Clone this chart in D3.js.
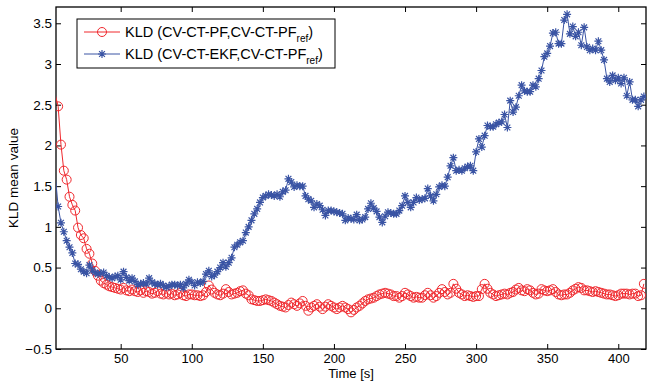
<!DOCTYPE html>
<html>
<head>
<meta charset="utf-8">
<script src="https://cdn.jsdelivr.net/npm/d3@7"></script>
<style>
  body { margin: 0; background: #fff; }
  text { font-family: "Liberation Sans", Arial, Helvetica, sans-serif; }
</style>
</head>
<body>
<svg id="chart" width="647" height="381"></svg>
<script>
// sample grid (s)
var times = d3.range(4, 419, 2);

// KLD (CV-CT-PF, CV-CT-PF_ref)
var pfValues = [
  2.62, 2.48, 2.01, 1.69, 1.58, 1.37, 1.27, 1.20, 0.99, 0.90,
  0.86, 0.73, 0.67, 0.55, 0.46, 0.40, 0.34, 0.31, 0.29, 0.27,
  0.26, 0.25, 0.24, 0.23, 0.25, 0.22, 0.21, 0.23, 0.21, 0.20,
  0.22, 0.19, 0.21, 0.20, 0.18, 0.19, 0.21, 0.18, 0.17, 0.19,
  0.17, 0.18, 0.16, 0.17, 0.19, 0.16, 0.15, 0.17, 0.17, 0.16,
  0.16, 0.15, 0.16, 0.20, 0.28, 0.23, 0.19, 0.17, 0.16, 0.18,
  0.235, 0.20, 0.17, 0.18, 0.19, 0.21, 0.22, 0.18, 0.16, 0.11,
  0.10, 0.09, 0.09, 0.10, 0.11, 0.10, 0.09, 0.07, 0.05, 0.03,
  0.02, 0.01, 0.04, 0.07, 0.05, 0.03, 0.06, 0.09, 0.03, -0.03,
  0.01, 0.03, 0.05, 0.02, -0.01, 0.02, 0.05, 0.03, 0.01, -0.01,
  0.01, 0.03, 0.01, -0.01, -0.05, -0.02, 0.01, 0.03, 0.06, 0.09,
  0.11, 0.12, 0.13, 0.15, 0.17, 0.18, 0.19, 0.18, 0.17, 0.15,
  0.15, 0.13, 0.15, 0.19, 0.17, 0.15, 0.13, 0.14, 0.13, 0.13,
  0.16, 0.19, 0.16, 0.13, 0.15, 0.19, 0.235, 0.20, 0.17, 0.19,
  0.30, 0.24, 0.19, 0.17, 0.15, 0.16, 0.15, 0.14, 0.15, 0.15,
  0.235, 0.30, 0.24, 0.19, 0.17, 0.15, 0.16, 0.17, 0.18, 0.17,
  0.19, 0.20, 0.23, 0.25, 0.22, 0.21, 0.235, 0.22, 0.19, 0.17,
  0.18, 0.235, 0.22, 0.21, 0.22, 0.235, 0.20, 0.17, 0.16, 0.17,
  0.17, 0.19, 0.22, 0.24, 0.26, 0.25, 0.22, 0.22, 0.21, 0.20,
  0.21, 0.20, 0.19, 0.18, 0.17, 0.17, 0.16, 0.15, 0.16, 0.18,
  0.18, 0.18, 0.17, 0.18, 0.18, 0.15, 0.16, 0.30
];

// KLD (CV-CT-EKF, CV-CT-PF_ref)
var ekfValues = [
  1.63, 1.25, 1.05, 0.94, 0.83, 0.75, 0.68, 0.55, 0.54, 0.48,
  0.45, 0.43, 0.53, 0.47, 0.44, 0.42, 0.43, 0.44, 0.40, 0.38,
  0.37, 0.39, 0.40, 0.35, 0.45, 0.38, 0.34, 0.37, 0.33, 0.29,
  0.30, 0.31, 0.30, 0.37, 0.32, 0.30, 0.29, 0.30, 0.28, 0.26,
  0.27, 0.29, 0.29, 0.28, 0.29, 0.25, 0.30, 0.35, 0.32, 0.28,
  0.32, 0.31, 0.33, 0.42, 0.46, 0.39, 0.41, 0.45, 0.50, 0.56,
  0.51, 0.56, 0.62, 0.75, 0.78, 0.81, 0.83, 0.93, 1.00, 1.08,
  1.16, 1.22, 1.30, 1.36, 1.38, 1.40, 1.39, 1.38, 1.40, 1.37,
  1.43, 1.45, 1.59, 1.55, 1.49, 1.51, 1.50, 1.50, 1.38, 1.34,
  1.32, 1.24, 1.28, 1.26, 1.21, 1.14, 1.20, 1.20, 1.19, 1.18,
  1.17, 1.16, 1.08, 1.11, 1.10, 1.09, 1.15, 1.08, 1.09, 1.12,
  1.22, 1.29, 1.23, 1.19, 1.12, 1.055, 1.13, 1.18, 1.17, 1.16,
  1.16, 1.20, 1.26, 1.38, 1.30, 1.24, 1.30, 1.36, 1.33, 1.34,
  1.35, 1.47, 1.38, 1.32, 1.40, 1.49, 1.51, 1.50, 1.61, 1.75,
  1.85, 1.69, 1.70, 1.69, 1.72, 1.74, 1.75, 1.69, 1.92, 2.08,
  1.98, 2.12, 2.245, 2.23, 2.23, 2.26, 2.28, 2.29, 2.38, 2.22,
  2.55, 2.41, 2.47, 2.61, 2.74, 2.67, 2.66, 2.66, 2.74, 2.72,
  2.82, 2.92, 3.09, 3.13, 3.22, 3.38, 3.39, 3.25, 3.25, 3.54,
  3.61, 3.37, 3.46, 3.34, 3.39, 3.23, 3.45, 3.21, 3.17, 3.19,
  3.17, 3.28, 3.17, 3.05, 2.82, 2.78, 2.86, 2.80, 2.83, 2.76,
  2.83, 2.61, 2.78, 2.56, 2.56, 2.48, 2.56, 2.60
];

var xTicks = [50, 100, 150, 200, 250, 300, 350, 400];
var yTicks = [-0.5, 0, 0.5, 1, 1.5, 2, 2.5, 3, 3.5];
var seriesNames = ["KLD (CV-CT-PF,CV-CT-PF", "KLD (CV-CT-EKF,CV-CT-PF"];

var red = "#f0282d", blue = "#3a54a4";

var svg = d3.select("#chart");
var margin = { top: 7, right: 1, bottom: 32, left: 56 },
  width = +svg.attr("width") - margin.left - margin.right,
  height = +svg.attr("height") - margin.top - margin.bottom;

var x = d3.scaleLinear().domain([4.5, 419.5]).range([0, width]),
  y = d3.scaleLinear().domain([-0.5, 3.7]).range([height, 0]);

var g = svg.append("g")
  .attr("transform", "translate(" + margin.left + "," + margin.top + ")");

svg.append("defs").append("clipPath").attr("id", "clip")
  .append("rect").attr("width", width).attr("height", height);

function styleAxis(sel) {
  sel.select(".domain").remove();
  sel.selectAll("line").attr("stroke", "#000");
  sel.selectAll("text").attr("fill", "#000");
}

g.append("g").attr("transform", "translate(0," + height + ")")
  .call(d3.axisBottom(x).tickValues(xTicks).tickSize(-5).tickPadding(5))
  .call(styleAxis)
  .selectAll("text").attr("font-size", "13px");
g.append("g")
  .call(d3.axisTop(x).tickValues(xTicks).tickSize(-5).tickFormat(""))
  .call(styleAxis);
g.append("g")
  .call(d3.axisLeft(y).tickValues(yTicks).tickSize(-5).tickPadding(4).tickFormat(d3.format("")))
  .call(styleAxis)
  .selectAll("text").attr("font-size", "13.5px");
g.append("g").attr("transform", "translate(" + width + ",0)")
  .call(d3.axisRight(y).tickValues(yTicks).tickSize(-5).tickFormat(""))
  .call(styleAxis);

g.append("rect")
  .attr("width", width).attr("height", height)
  .attr("fill", "none").attr("stroke", "#000").attr("stroke-width", 1.3);

var plot = g.append("g").attr("clip-path", "url(#clip)");

var line = d3.line()
  .x(function (d, i) { return x(times[i]); })
  .y(function (d) { return y(d); });

// markers are only drawn where the sample lies inside the x range
function inRange(d, i) { return times[i] >= x.domain()[0] && times[i] <= x.domain()[1]; }

var starPath = "M-4,0H4M0,-4V4M-2.9,-2.9L2.9,2.9M-2.9,2.9L2.9,-2.9";

// PF series
plot.append("path").datum(pfValues)
  .attr("fill", "none").attr("stroke", red).attr("stroke-width", 1)
  .attr("d", line);
plot.selectAll(".pf")
  .data(pfValues.map(function (v, i) { return [i, v]; }).filter(function (p) { return inRange(p[1], p[0]); }))
  .enter().append("circle")
  .attr("class", "pf")
  .attr("cx", function (p) { return x(times[p[0]]); })
  .attr("cy", function (p) { return y(p[1]); })
  .attr("r", 4.5)
  .attr("fill", "none").attr("stroke", red).attr("stroke-width", 1);

// EKF series
plot.append("path").datum(ekfValues)
  .attr("fill", "none").attr("stroke", blue).attr("stroke-width", 1)
  .attr("d", line);
plot.selectAll(".ekf")
  .data(ekfValues.map(function (v, i) { return [i, v]; }).filter(function (p) { return inRange(p[1], p[0]); }))
  .enter().append("path")
  .attr("class", "ekf")
  .attr("transform", function (p) { return "translate(" + x(times[p[0]]) + "," + y(p[1]) + ")"; })
  .attr("d", starPath)
  .attr("fill", "none").attr("stroke", blue).attr("stroke-width", 1.2);

// axis titles
svg.append("text")
  .attr("x", margin.left + width / 2).attr("y", 378)
  .attr("text-anchor", "middle").attr("font-size", "13px")
  .text("Time [s]");
svg.append("text")
  .attr("transform", "translate(18," + (margin.top + height / 2) + ") rotate(-90)")
  .attr("text-anchor", "middle").attr("font-size", "13.5px")
  .text("KLD mean value");

// legend
var lg = svg.append("g").attr("transform", "translate(77,19)");
lg.append("rect").attr("width", 258).attr("height", 49)
  .attr("fill", "#fff").attr("stroke", "#000").attr("stroke-width", 1);

var colors = [red, blue];
seriesNames.forEach(function (name, i) {
  var ly = 13 + i * 22;
  lg.append("line").attr("x1", 7).attr("x2", 43).attr("y1", ly).attr("y2", ly)
    .attr("stroke", colors[i]).attr("stroke-width", 1);
  if (i == 0) {
    lg.append("circle").attr("cx", 25).attr("cy", ly).attr("r", 4.5)
      .attr("fill", "none").attr("stroke", red);
  } else {
    lg.append("path").attr("transform", "translate(25," + ly + ")")
      .attr("d", starPath).attr("fill", "none").attr("stroke", blue).attr("stroke-width", 1.2);
  }
  var t = lg.append("text").attr("x", 48).attr("y", ly + 5).attr("font-size", "14.5px");
  t.append("tspan").text(name);
  t.append("tspan").attr("font-size", "10px").attr("dy", 5).text("ref");
  t.append("tspan").attr("dy", -5).text(")");
});
</script>
</body>
</html>
